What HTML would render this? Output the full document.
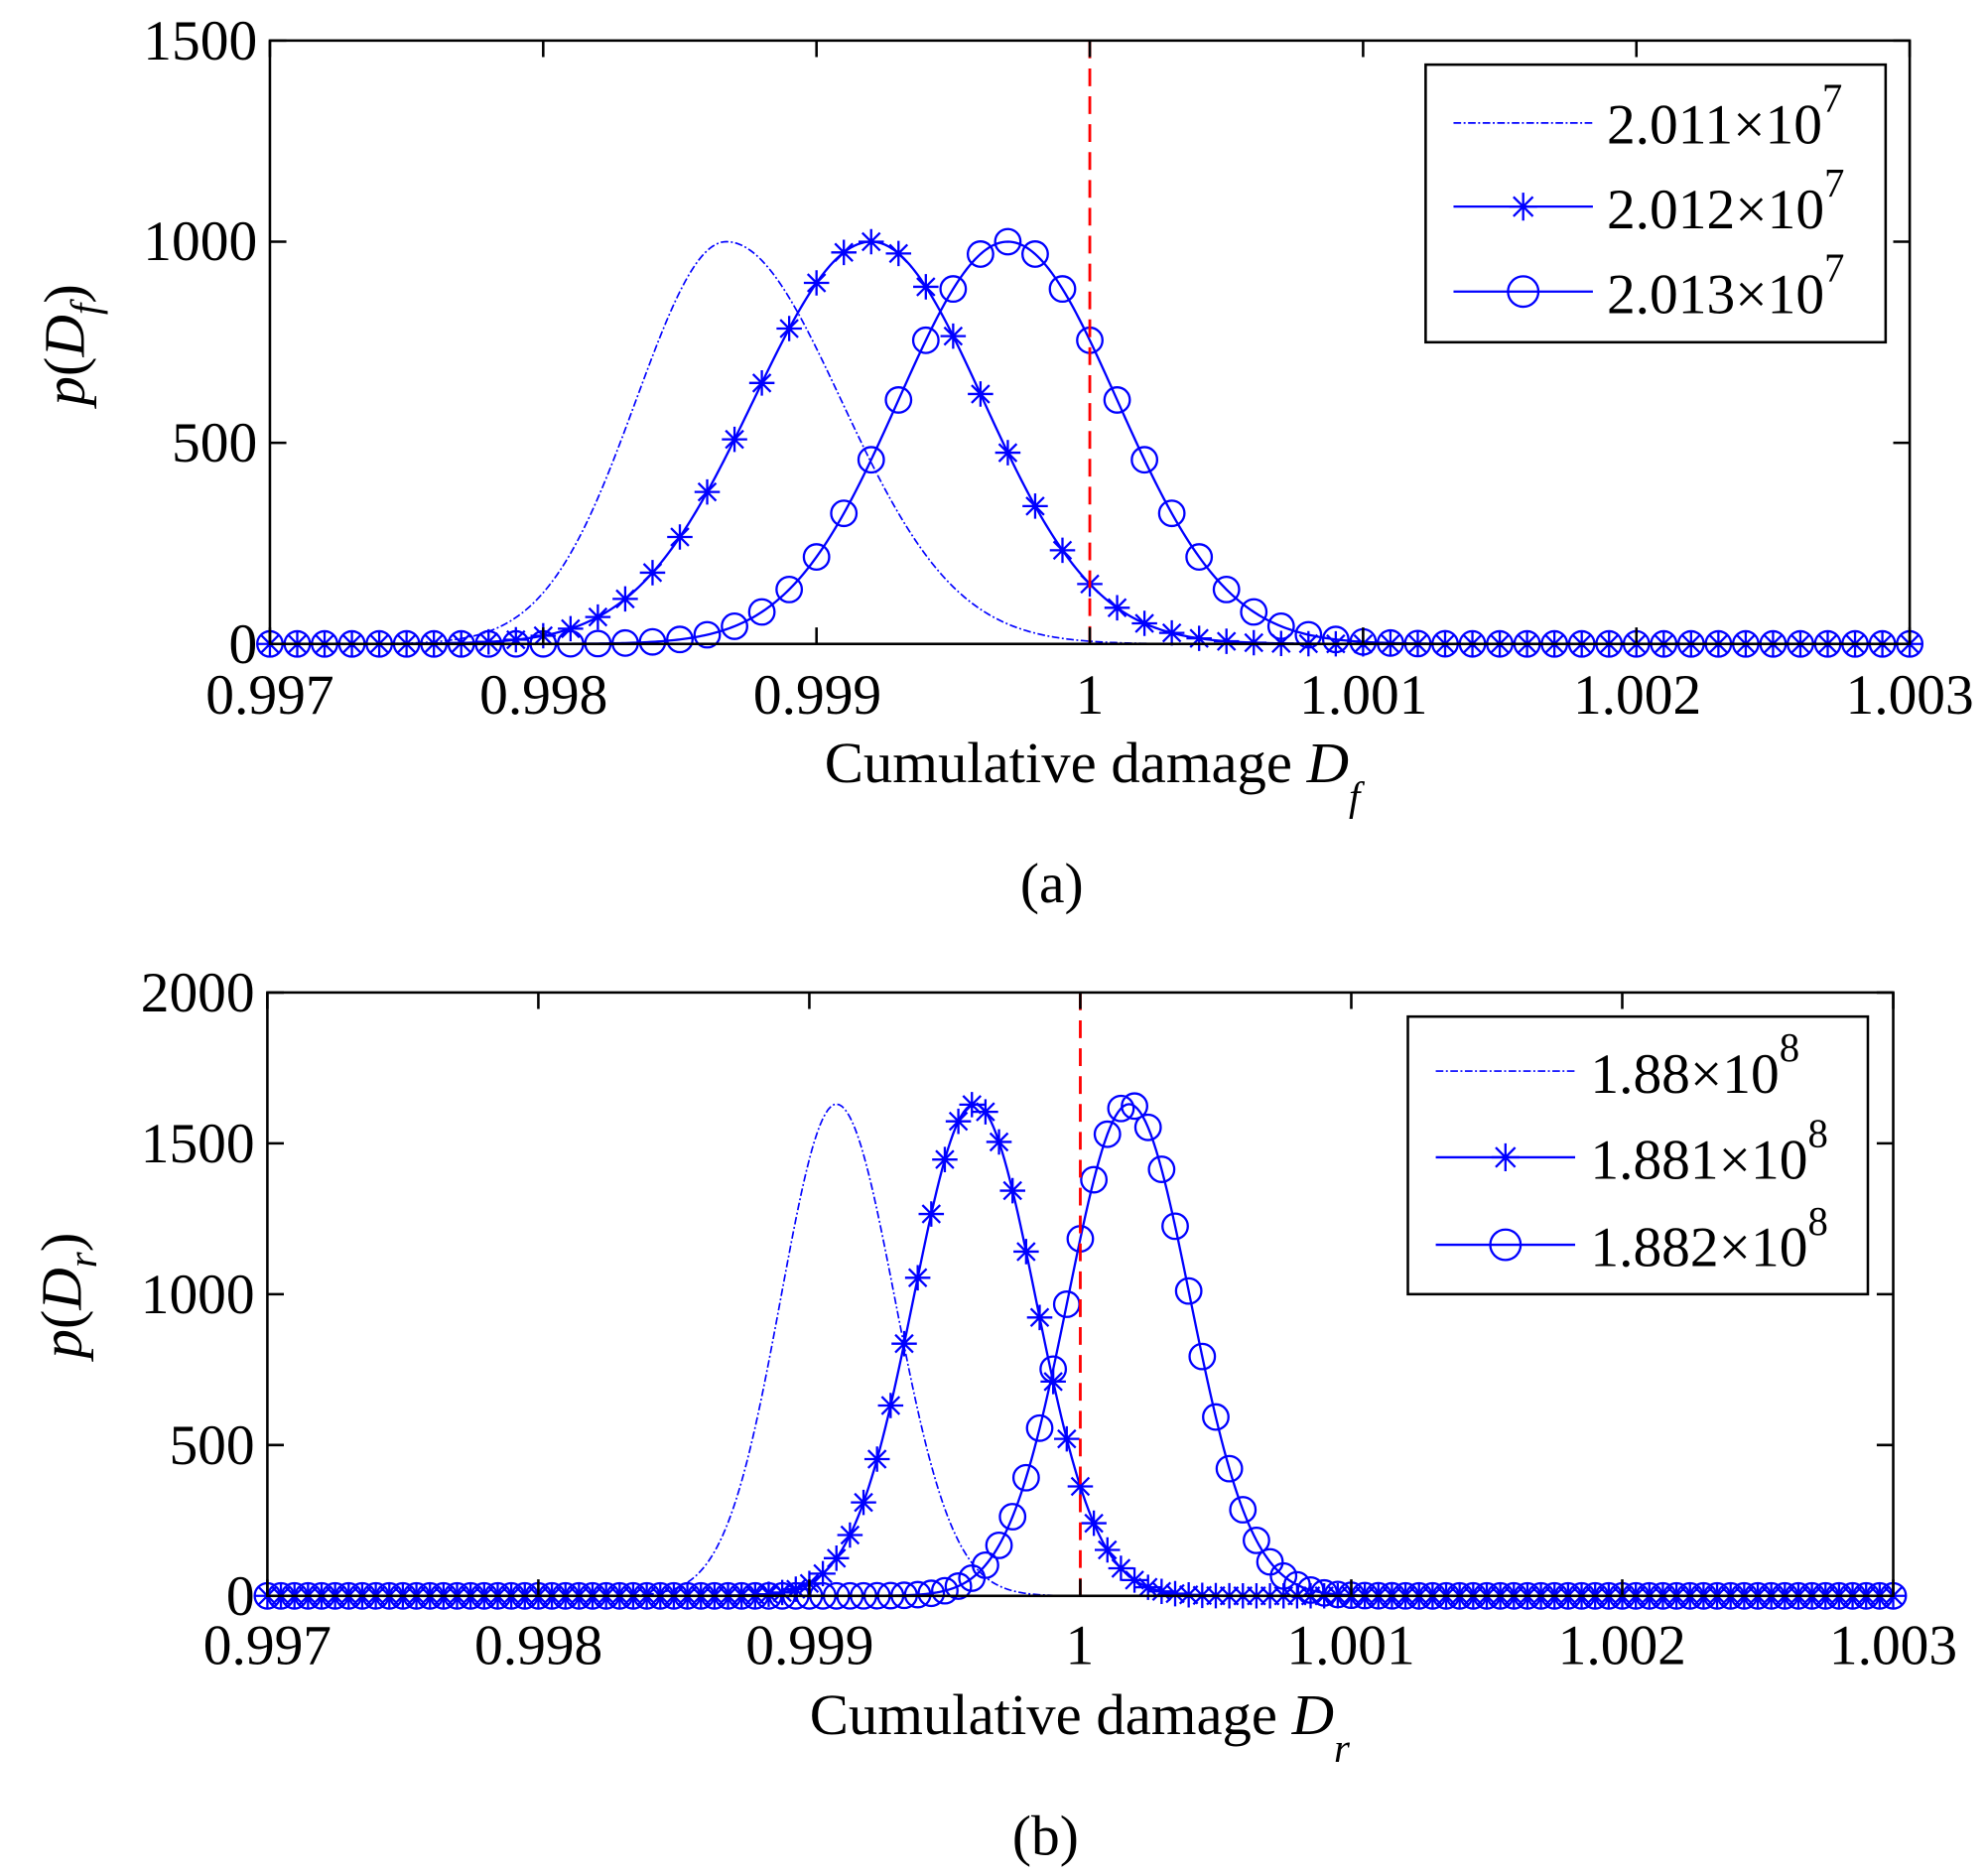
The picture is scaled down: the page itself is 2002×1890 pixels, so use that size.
<!DOCTYPE html>
<html><head><meta charset="utf-8"><style>
html,body{margin:0;padding:0;background:#fff}
svg{display:block}
text{font-family:"Liberation Serif",serif;fill:#000}
</style></head><body>
<svg id="s" width="2002" height="1890" viewBox="0 0 1568 1480" preserveAspectRatio="none" xmlns="http://www.w3.org/2000/svg">
<g id="plots"></g>
<g font-size="45">
<text x="213" y="563" text-anchor="middle">0.997</text>
<text x="429" y="563" text-anchor="middle">0.998</text>
<text x="645" y="563" text-anchor="middle">0.999</text>
<text x="860" y="563" text-anchor="middle">1</text>
<text x="1076" y="563" text-anchor="middle">1.001</text>
<text x="1292" y="563" text-anchor="middle">1.002</text>
<text x="1507" y="563" text-anchor="middle">1.003</text>
<text x="203" y="47" text-anchor="end">1500</text>
<text x="203" y="205" text-anchor="end">1000</text>
<text x="203" y="364" text-anchor="end">500</text>
<text x="203" y="523" text-anchor="end">0</text>
<text x="862" y="617" text-anchor="middle" font-size="46">Cumulative damage <tspan font-style="italic">D</tspan><tspan font-style="italic" font-size="32" dy="22">f</tspan></text>
<text x="830" y="712" text-anchor="middle">(a)</text>
<text transform="translate(66,272) rotate(-90)" text-anchor="middle" font-size="46"><tspan font-style="italic">p</tspan>(<tspan font-style="italic">D</tspan><tspan font-style="italic" font-size="32" dy="12">f</tspan><tspan dy="-12">)</tspan></text>
<text x="211" y="1313" text-anchor="middle">0.997</text>
<text x="425" y="1313" text-anchor="middle">0.998</text>
<text x="639" y="1313" text-anchor="middle">0.999</text>
<text x="852" y="1313" text-anchor="middle">1</text>
<text x="1066" y="1313" text-anchor="middle">1.001</text>
<text x="1280" y="1313" text-anchor="middle">1.002</text>
<text x="1494" y="1313" text-anchor="middle">1.003</text>
<text x="201" y="798" text-anchor="end">2000</text>
<text x="201" y="917" text-anchor="end">1500</text>
<text x="201" y="1036" text-anchor="end">1000</text>
<text x="201" y="1155" text-anchor="end">500</text>
<text x="201" y="1274" text-anchor="end">0</text>
<text x="852" y="1368" text-anchor="middle" font-size="46">Cumulative damage <tspan font-style="italic">D</tspan><tspan font-style="italic" font-size="32" dy="22">r</tspan></text>
<text x="825" y="1463" text-anchor="middle">(b)</text>
<text transform="translate(64,1022) rotate(-90)" text-anchor="middle" font-size="46"><tspan font-style="italic">p</tspan>(<tspan font-style="italic">D</tspan><tspan font-style="italic" font-size="32" dy="12">r</tspan><tspan dy="-12">)</tspan></text>
<text x="1268" y="113">2.011×10<tspan font-size="32" dy="-25">7</tspan></text>
<text x="1268" y="180">2.012×10<tspan font-size="32" dy="-25">7</tspan></text>
<text x="1268" y="247">2.013×10<tspan font-size="32" dy="-25">7</tspan></text>
<text x="1255" y="862">1.88×10<tspan font-size="32" dy="-25">8</tspan></text>
<text x="1255" y="930">1.881×10<tspan font-size="32" dy="-25">8</tspan></text>
<text x="1255" y="999">1.882×10<tspan font-size="32" dy="-25">8</tspan></text>
</g>
</svg>
<script>
(function(){
var G=document.getElementById("plots"),out="";
function star(x,y,r){return "M"+(x-r)+","+y+"H"+(x+r)+"M"+x+","+(y-r)+"V"+(y+r)+"M"+(x-r*.7)+","+(y-r*.7)+"L"+(x+r*.7)+","+(y+r*.7)+"M"+(x-r*.7)+","+(y+r*.7)+"L"+(x+r*.7)+","+(y-r*.7);}
function g(x,m,sl,sr){var s=x<m?sl:sr;return Math.exp(-0.5*((x-m)/s)*((x-m)/s));}
function plot(P){
 var L=P.L,R=P.R,T=P.T,B=P.B;
 function X(v){return L+(v-0.997)/0.006*(R-L);}
 function Y(v){return B-v/P.ymax*(B-T);}
 P.series.forEach(function(S){
  var d="";
  for(var i=0;i<=600;i++){var v=0.997+i*0.00001;var y=S.h*g(v,S.m,S.sl,S.sr);d+=(i?"L":"M")+X(v).toFixed(2)+","+Y(y).toFixed(2);}
  out+='<path d="'+d+'" fill="none" stroke="#0000ff" stroke-width="'+(S.dash?1.3:1.8)+'"'+(S.dash?' stroke-dasharray="6,2,1.5,2"':'')+'/>';
  if(S.mk){var md="",n=Math.round(0.006/P.step);
   for(var i=0;i<=n;i++){var v=0.997+i*P.step;var x=X(v),y=Y(S.h*g(v,S.m,S.sl,S.sr));
    if(S.mk=="s")md+=star(x,y,10);else md+="M"+(x-10)+","+y+"a10,10 0 1,0 20,0a10,10 0 1,0 -20,0";}
   out+='<path d="'+md+'" fill="none" stroke="#0000ff" stroke-width="1.8"/>';}
 });
 out+='<line x1="'+X(1)+'" y1="'+T+'" x2="'+X(1)+'" y2="'+B+'" stroke="#ff0000" stroke-width="2.2" stroke-dasharray="14,8"/>';
 out+='<rect x="'+L+'" y="'+T+'" width="'+(R-L)+'" height="'+(B-T)+'" fill="none" stroke="#000" stroke-width="2"/>';
 var t="";
 for(var i=0;i<=6;i++){var x=L+i*(R-L)/6;t+="M"+x+","+B+"v-13M"+x+","+T+"v13";}
 for(var i=0;i<=P.ny;i++){var y=B-i*(B-T)/P.ny;t+="M"+L+","+y+"h13M"+R+","+y+"h-13";}
 out+='<path d="'+t+'" stroke="#000" stroke-width="2"/>';
 var lg=P.leg;
 out+='<rect x="'+lg.x+'" y="'+lg.y+'" width="'+lg.w+'" height="'+lg.h+'" fill="#fff" stroke="#000" stroke-width="2"/>';
 lg.rows.forEach(function(r,i){
  var y=r,x1=lg.lx,x2=lg.lx+110,xm=lg.lx+55;
  out+='<line x1="'+x1+'" y1="'+y+'" x2="'+x2+'" y2="'+y+'" stroke="#0000ff" stroke-width="'+(i==0?1.3:1.8)+'"'+(i==0?' stroke-dasharray="6,2,1.5,2"':'')+'/>';
  if(i==1)out+='<path d="'+star(xm,y,11)+'" stroke="#0000ff" stroke-width="1.8"/>';
  if(i==2)out+='<circle cx="'+xm+'" cy="'+y+'" r="12" fill="none" stroke="#0000ff" stroke-width="1.8"/>';
 });
}
plot({L:213,R:1507,T:32,B:508,ymax:1500,ny:3,step:0.0001,
 series:[{h:1000,m:0.99867,sl:0.00033,sr:0.00042,dash:1},
         {h:1000,m:0.99920,sl:0.00043,sr:0.00041,mk:"s"},
         {h:1000,m:0.99970,sl:0.00040,sr:0.00040,mk:"c"}],
 leg:{x:1125,y:51,w:363,h:219,lx:1147,rows:[97,163,230]}});
plot({L:211,R:1494,T:783,B:1259,ymax:2000,ny:4,step:0.00005,
 series:[{h:1630,m:0.99910,sl:0.000205,sr:0.000215,dash:1},
         {h:1630,m:0.99961,sl:0.000225,sr:0.000225,mk:"s"},
         {h:1630,m:1.00018,sl:0.000225,sr:0.000225,mk:"c"}],
 leg:{x:1111,y:802,w:363,h:219,lx:1133,rows:[845,913,982]}});
G.innerHTML=out;
})();
</script>
</body></html>
